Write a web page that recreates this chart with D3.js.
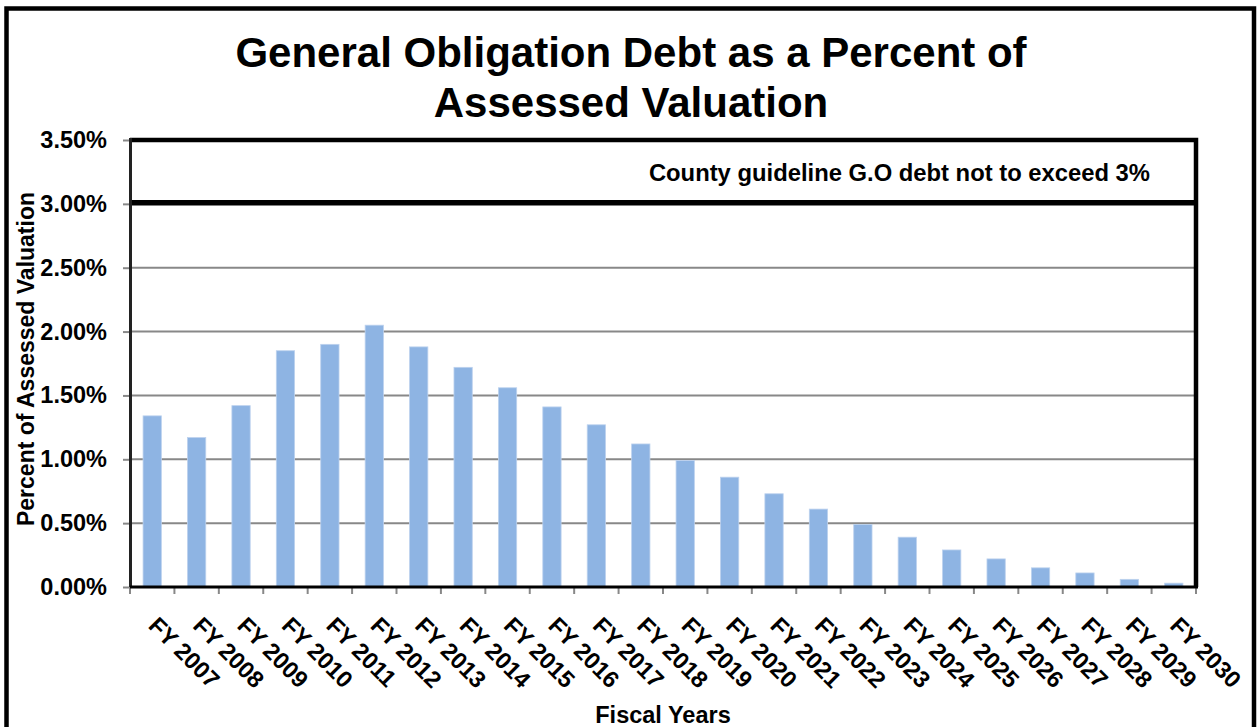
<!DOCTYPE html>
<html>
<head>
<meta charset="utf-8">
<script src="https://cdn.jsdelivr.net/npm/d3@7"></script>
<style>
  html, body { margin: 0; padding: 0; background: #fff; }
  svg { display: block; }
  text { font-family: "Liberation Sans", Arial, Helvetica, sans-serif; font-weight: bold; fill: #000; }
</style>
</head>
<body>
<svg id="chart" width="1257" height="727"></svg>
<script>
// Fiscal years shown along the category axis
const fiscalYears = ["FY 2007", "FY 2008", "FY 2009", "FY 2010", "FY 2011", "FY 2012",
  "FY 2013", "FY 2014", "FY 2015", "FY 2016", "FY 2017", "FY 2018", "FY 2019", "FY 2020",
  "FY 2021", "FY 2022", "FY 2023", "FY 2024", "FY 2025", "FY 2026", "FY 2027", "FY 2028",
  "FY 2029", "FY 2030"];

// G.O. debt as a percent of assessed valuation
const debtPercent = [1.34, 1.17, 1.42, 1.85, 1.90, 2.05, 1.88, 1.72, 1.56, 1.41, 1.27, 1.12,
  0.99, 0.86, 0.73, 0.61, 0.49, 0.39, 0.29, 0.22, 0.15, 0.11, 0.06, 0.03];

// Value axis ticks (percent)
const yTicks = [0, 0.5, 1.0, 1.5, 2.0, 2.5, 3.0, 3.5];
const guidelineLimit = 3.0;

const titleLines = ["General Obligation Debt as a Percent of", "Assessed Valuation"];
const guidelineText = "County guideline G.O debt not to exceed 3%";
const yAxisTitle = "Percent of Assessed Valuation";
const xAxisTitle = "Fiscal Years";

const svg = d3.select("#chart");
const plot = { left: 130, right: 1196, top: 140, bottom: 587 };

// outer chart frame
svg.append("rect")
  .attr("x", 6.5).attr("y", 8.5)
  .attr("width", 1247.5).attr("height", 800)
  .attr("fill", "none").attr("stroke", "#000").attr("stroke-width", 4.5);

const x = d3.scaleBand()
  .domain(fiscalYears)
  .range([plot.left, plot.right])
  .paddingInner(0.588)
  .paddingOuter(0.294);

const y = d3.scaleLinear()
  .domain([0, 3.5])
  .range([plot.bottom, plot.top]);

// horizontal gridlines
svg.append("g").selectAll("line")
  .data(yTicks.filter(v => v > 0 && v < guidelineLimit))
  .join("line")
  .attr("x1", plot.left).attr("x2", plot.right)
  .attr("y1", d => y(d)).attr("y2", d => y(d))
  .attr("stroke", "#888").attr("stroke-width", 2);

// bars
svg.append("g").selectAll("rect")
  .data(debtPercent)
  .join("rect")
  .attr("x", (d, i) => x(fiscalYears[i]))
  .attr("width", x.bandwidth())
  .attr("y", d => y(d))
  .attr("height", d => y(0) - y(d))
  .attr("fill", "#8EB4E3")
  .attr("stroke", "#BDD2EE")
  .attr("stroke-width", 0.8);

// 3% guideline
svg.append("line")
  .attr("x1", plot.left).attr("x2", plot.right)
  .attr("y1", y(guidelineLimit) - 1).attr("y2", y(guidelineLimit) - 1)
  .attr("stroke", "#000").attr("stroke-width", 5.5);

// plot area border: top and right edges
svg.append("path")
  .attr("d", `M${plot.left},${y(3.5)}H${plot.right}V${y(0)}`)
  .attr("fill", "none").attr("stroke", "#000").attr("stroke-width", 4.5);

// value axis
const yAxis = d3.axisLeft(y)
  .tickValues(yTicks)
  .tickSize(7)
  .tickPadding(16)
  .tickFormat(d => d.toFixed(2) + "%");

const gy = svg.append("g")
  .attr("transform", `translate(${plot.left},0)`)
  .call(yAxis);
gy.select(".domain").remove();
gy.selectAll(".tick line").attr("stroke", "#888").attr("stroke-width", 2);
gy.selectAll(".tick text")
  .attr("font-size", 23.5)
  .attr("font-family", "'Liberation Sans', Arial, sans-serif")
  .attr("font-weight", "bold")
  .attr("fill", "#000");

svg.append("line")
  .attr("x1", plot.left + 0.5).attr("x2", plot.left + 0.5)
  .attr("y1", plot.top - 2).attr("y2", plot.bottom + 1)
  .attr("stroke", "#222").attr("stroke-width", 3);

// category axis
const step = x.step();
const boundaries = fiscalYears.map(d => x(d) - (step - x.bandwidth()) / 2)
  .concat([plot.right]);
svg.append("g").selectAll("line")
  .data(boundaries)
  .join("line")
  .attr("x1", d => d).attr("x2", d => d)
  .attr("y1", plot.bottom).attr("y2", plot.bottom + 7)
  .attr("stroke", "#888").attr("stroke-width", 2);

svg.append("line")
  .attr("x1", plot.left).attr("x2", plot.right + 2)
  .attr("y1", plot.bottom).attr("y2", plot.bottom)
  .attr("stroke", "#000").attr("stroke-width", 3);

svg.append("g").selectAll("text")
  .data(fiscalYears)
  .join("text")
  .attr("transform", d => `translate(${x(d) + x.bandwidth() / 2 - 5},627) rotate(45)`)
  .attr("text-anchor", "start")
  .attr("font-size", 23.5)
  .text(d => d);

// titles
svg.append("g").selectAll("text")
  .data(titleLines)
  .join("text")
  .attr("x", 631)
  .attr("y", (d, i) => 67 + i * 50)
  .attr("text-anchor", "middle")
  .attr("font-size", 42)
  .text(d => d);

svg.append("text")
  .attr("x", 1150).attr("y", 181)
  .attr("text-anchor", "end")
  .attr("font-size", 23.8)
  .text(guidelineText);

svg.append("text")
  .attr("transform", "translate(34,359) rotate(-90)")
  .attr("text-anchor", "middle")
  .attr("font-size", 23)
  .text(yAxisTitle);

svg.append("text")
  .attr("x", (plot.left + plot.right) / 2)
  .attr("y", 723)
  .attr("text-anchor", "middle")
  .attr("font-size", 23.5)
  .text(xAxisTitle);
</script>
</body>
</html>
